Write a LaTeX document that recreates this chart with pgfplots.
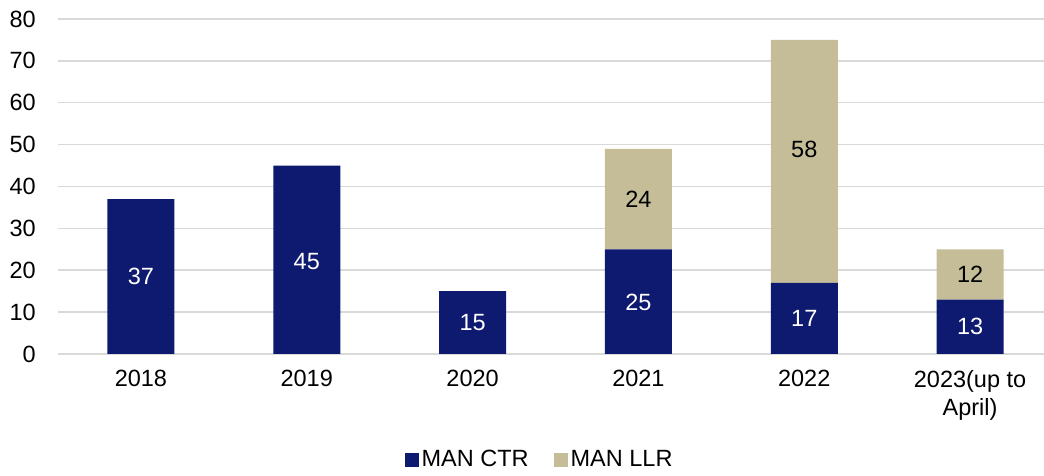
\documentclass[border=0pt]{standalone}
\usepackage{pgfplots}
\pgfplotsset{compat=1.18}
\usepackage{fontspec}
\setmainfont{Liberation Sans}
\definecolor{ctr}{RGB}{14,25,112}
\definecolor{llr}{RGB}{196,189,151}
\definecolor{gridc}{RGB}{217,217,217}
\pgfplotsset{
  common/.style={
    at={(0pt,0pt)}, anchor=south west,
    scale only axis, width=995pt, height=335pt,
    xmin=-0.5, xmax=5.5, ymin=0, ymax=80,
  }
}
\begin{document}
\fontsize{23.5}{28}\selectfont
\begin{tikzpicture}
\useasboundingbox (-58pt,-122pt) rectangle (986pt,354pt);
\begin{axis}[
  common,
  ybar stacked, bar width=67pt,
  ytick={0,10,...,80},
  xtick={0,...,5},
  xticklabels={2018,2019,2020,2021,2022,{2023(up to\\April)}},
  /pgf/number format/assume math mode=true,
  ticklabel style={font=\fontsize{23.5}{28}\selectfont, inner sep=0pt},
  xticklabel style={align=center, yshift=-16pt},
  yticklabel style={xshift=-22pt},
  axis line style={draw=none},
  major tick length=0pt,
  ymajorgrids, grid style={draw=gridc, line width=1.5pt},
  legend style={draw=none, at={(0.4845,-0.316)}, anchor=center,
    font=\fontsize{23.5}{28}\selectfont, inner sep=0pt,
    nodes={inner xsep=3pt, inner ysep=0pt},
    /tikz/every even column/.append style={column sep=22pt}},
  legend columns=2,
  legend image code/.code={\fill[#1] (0pt,-7pt) rectangle (14pt,7pt);},
]
\addplot[fill=ctr, draw=none] coordinates {(0,37) (1,45) (2,15) (3,25) (4,17) (5,13)};
\addlegendentry{MAN CTR}
\addplot[fill=llr, draw=none] coordinates {(0,0) (1,0) (2,0) (3,24) (4,58) (5,12)};
\addlegendentry{MAN LLR}
\end{axis}
\begin{axis}[common, hide axis]
\addplot[draw=none, mark=none, nodes near coords, point meta=explicit symbolic,
  every node near coord/.style={anchor=center, inner sep=0pt, text=white, font=\fontsize{23.5}{28}\selectfont}]
  coordinates {(0,18.6)[37] (1,22.0)[45] (2,7.6)[15] (3,12.4)[25] (4,8.4)[17] (5,6.6)[13]};
\addplot[draw=none, mark=none, nodes near coords, point meta=explicit symbolic,
  every node near coord/.style={anchor=center, inner sep=0pt, text=black, font=\fontsize{23.5}{28}\selectfont}]
  coordinates {(3,37)[24] (4,48.9)[58] (5,19)[12]};
\end{axis}
\end{tikzpicture}
\end{document}
